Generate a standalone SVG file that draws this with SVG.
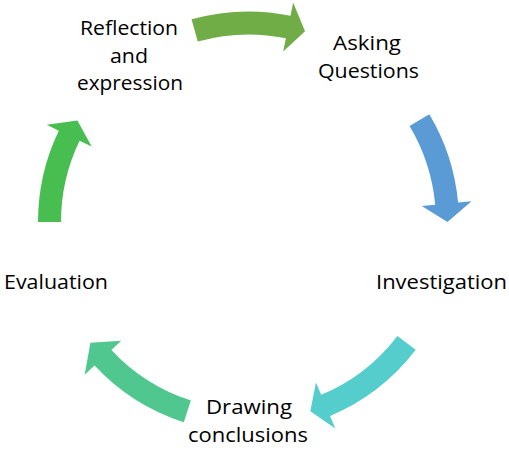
<svg xmlns="http://www.w3.org/2000/svg" width="509" height="454" viewBox="0 0 509 454">
<style>
text{font-family:"Open Sans","Liberation Sans",sans-serif;font-size:20.5px;fill:#000;text-anchor:middle}
</style>
<rect width="509" height="454" fill="#fff"/>
<g id="connectors">
<path id="a1" fill="#70AD47" d="M191.54,19.35 A210.5,210.5 0 0 1 290.47,15.73 L293.16,2.5 L305.02,31.2 L283.19,51.49 L285.88,38.26 A187.5,187.5 0 0 0 197.76,41.5 Z"/>
<path id="a2" fill="#5B9BD5" d="M429.31,114.21 A210.5,210.5 0 0 1 458.1,202.56 L471.54,201.31 L447.5,222 L421.76,205.93 L435.2,204.68 A187.5,187.5 0 0 0 409.56,125.99 Z"/>
<path id="a3" fill="#55CDCD" d="M415.72,349.85 A210.5,210.5 0 0 1 330.07,416.05 L335.3,428.5 L310.33,411.15 L315.93,382.4 L321.16,394.85 A187.5,187.5 0 0 0 397.45,335.88 Z"/>
<path id="a4" fill="#4FC78F" d="M183.8,422.31 A210.5,210.5 0 0 1 94.55,365.56 L84.68,374.77 L90.41,342.87 L121.25,340.67 L111.37,349.88 A187.5,187.5 0 0 0 190.87,400.42 Z"/>
<path id="a5" fill="#49BE50" d="M38,222 A210.5,210.5 0 0 1 58.82,130.71 L46.66,124.86 L77.42,120.4 L91.71,146.54 L79.55,140.69 A187.5,187.5 0 0 0 61,222 Z"/>
</g>
<g id="node-asking"><text x="367" y="50" textLength="68" lengthAdjust="spacingAndGlyphs">Asking</text><text x="368.5" y="78" textLength="101" lengthAdjust="spacingAndGlyphs">Questions</text></g>
<g id="node-investigation"><text x="441.5" y="289" textLength="131" lengthAdjust="spacingAndGlyphs">Investigation</text></g>
<g id="node-drawing"><text x="249" y="414" textLength="86" lengthAdjust="spacingAndGlyphs">Drawing</text><text x="248" y="442" textLength="120" lengthAdjust="spacingAndGlyphs">conclusions</text></g>
<g id="node-evaluation"><text x="56" y="289" textLength="104" lengthAdjust="spacingAndGlyphs">Evaluation</text></g>
<g id="node-reflection"><text x="129" y="35" textLength="98" lengthAdjust="spacingAndGlyphs">Reflection</text><text x="129" y="62.5" textLength="38" lengthAdjust="spacingAndGlyphs">and</text><text x="130" y="90" textLength="106" lengthAdjust="spacingAndGlyphs">expression</text></g>
</svg>
